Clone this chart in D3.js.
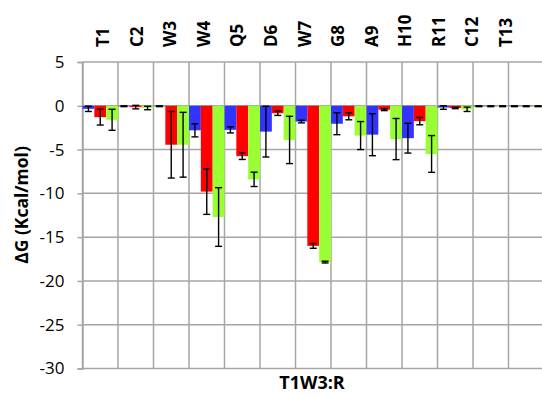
<!DOCTYPE html>
<html>
<head>
<meta charset="utf-8">
<script src="https://cdn.jsdelivr.net/npm/d3@7"></script>
<style>
  html, body { margin: 0; padding: 0; background: #fff; }
  svg { display: block; }
  text { font-family: "Open Sans", "DejaVu Sans", sans-serif; fill: #000; }
</style>
</head>
<body>
<svg id="chart" width="542" height="396"></svg>
<script>
// Residue positions along the peptide
const categories = ["T1", "C2", "W3", "W4", "Q5", "D6", "W7", "G8", "A9", "H10", "R11", "C12", "T13"];
// Three series per residue (blue, red, green), ΔG in kcal/mol
const seriesNames = ["s1", "s2", "s3"];
const seriesColors = ["#3333ff", "#ff0000", "#99ff33"];
const blueValues  = [-0.35, -0.05, -0.05, -2.8, -2.75, -2.95, -1.8, -2.05, -3.3, -3.7, -0.2, -0.05, -0.05];
const redValues   = [-1.3, -0.15, -4.45, -9.8, -5.75, -0.85, -16.0, -1.2, -0.45, -1.75, -0.25, -0.05, -0.05];
const greenValues = [-1.6, -0.25, -4.45, -12.7, -8.4, -3.9, -17.85, -3.4, -3.8, -5.5, -0.4, -0.05, -0.05];
// Standard deviations for the error bars
const blueErrors  = [0.3, 0.05, 0.05, 0.75, 0.35, 2.9, 0.15, 1.25, 2.4, 1.7, 0.2, 0.05, 0.05];
const redErrors   = [0.9, 0.2, 3.8, 2.6, 0.38, 0.25, 0.27, 0.4, 0.1, 0.42, 0.08, 0.05, 0.05];
const greenErrors = [1.2, 0.2, 3.7, 3.35, 0.82, 2.7, 0.1, 1.6, 2.35, 2.1, 0.25, 0.05, 0.05];
const yTicks = [5, 0, -5, -10, -15, -20, -25, -30];
const yTitle = "ΔG (Kcal/mol)";
const xTitle = "T1W3:R";

const valueSets = [blueValues, redValues, greenValues];
const errorSets = [blueErrors, redErrors, greenErrors];
const rows = categories.flatMap((c, i) =>
  seriesNames.map((s, k) => ({ cat: c, series: s, k, value: valueSets[k][i], err: errorSets[k][i] }))
);

const svg = d3.select("#chart");
const plotLeft = 82.5, plotRight = 544, plotTop = 62, plotBottom = 368.5;

const x = d3.scaleBand().domain(categories).range([plotLeft, plotRight]).paddingInner(0).paddingOuter(0);
const xs = d3.scaleBand().domain(seriesNames).range([0, x.bandwidth()]).padding(0);
const y = d3.scaleLinear().domain([-30, 5]).range([plotBottom, plotTop]);

const grid = svg.append("g").attr("stroke", "#a6a6a6").attr("stroke-width", 1.5);
// horizontal gridlines
grid.selectAll("line.h").data(yTicks).join("line")
  .attr("x1", plotLeft).attr("x2", plotRight)
  .attr("y1", d => y(d)).attr("y2", d => y(d));
// vertical gridlines between residues
grid.selectAll("line.v").data(categories).join("line")
  .attr("x1", d => x(d)).attr("x2", d => x(d))
  .attr("y1", plotTop).attr("y2", plotBottom);

// y axis
const yAxis = svg.append("g").attr("transform", `translate(${plotLeft},0)`)
  .call(d3.axisLeft(y).tickValues(yTicks).tickSize(5).tickPadding(13).tickFormat(d => String(d)));
yAxis.select(".domain").attr("stroke", "#a6a6a6").attr("stroke-width", 1.5);
yAxis.selectAll(".tick line").attr("stroke", "#a6a6a6").attr("stroke-width", 1.5);
yAxis.selectAll(".tick text").attr("font-size", 17).attr("font-family", "'Open Sans', sans-serif").attr("fill", "#000");

// bars
svg.append("g").selectAll("rect").data(rows).join("rect")
  .attr("x", d => x(d.cat) + xs(d.series))
  .attr("width", xs.bandwidth())
  .attr("y", d => y(Math.max(0, d.value)))
  .attr("height", d => Math.abs(y(d.value) - y(0)))
  .attr("fill", d => seriesColors[d.k]);

// error bars
const eb = svg.append("g").attr("stroke", "#000").attr("stroke-width", 1.4);
const cx = d => x(d.cat) + xs(d.series) + xs.bandwidth() / 2;
eb.selectAll("line.stem").data(rows).join("line")
  .attr("x1", cx).attr("x2", cx)
  .attr("y1", d => y(d.value + d.err)).attr("y2", d => y(d.value - d.err));
eb.selectAll("line.capTop").data(rows).join("line")
  .attr("x1", d => cx(d) - 3.5).attr("x2", d => cx(d) + 3.5)
  .attr("y1", d => y(d.value + d.err)).attr("y2", d => y(d.value + d.err));
eb.selectAll("line.capBot").data(rows).join("line")
  .attr("x1", d => cx(d) - 3.5).attr("x2", d => cx(d) + 3.5)
  .attr("y1", d => y(d.value - d.err)).attr("y2", d => y(d.value - d.err));

// residue labels along the top
const xLab = d3.scalePoint().domain(categories).range([103, 506]);
svg.append("g").selectAll("text").data(categories).join("text")
  .attr("transform", d => `translate(${xLab(d) + 6},47) rotate(-90)`)
  .attr("font-family", "'Liberation Sans', Arial, sans-serif")
  .attr("font-weight", "bold")
  .attr("font-size", 17)
  .text(d => d);

// axis titles
svg.append("text")
  .attr("transform", "translate(28,205) rotate(-90)")
  .attr("text-anchor", "middle")
  .attr("font-size", 17.5).attr("font-weight", "bold")
  .text(yTitle);
svg.append("text")
  .attr("x", 312).attr("y", 389)
  .attr("text-anchor", "middle")
  .attr("font-size", 18).attr("font-weight", "bold")
  .text(xTitle);
</script>
</body>
</html>
